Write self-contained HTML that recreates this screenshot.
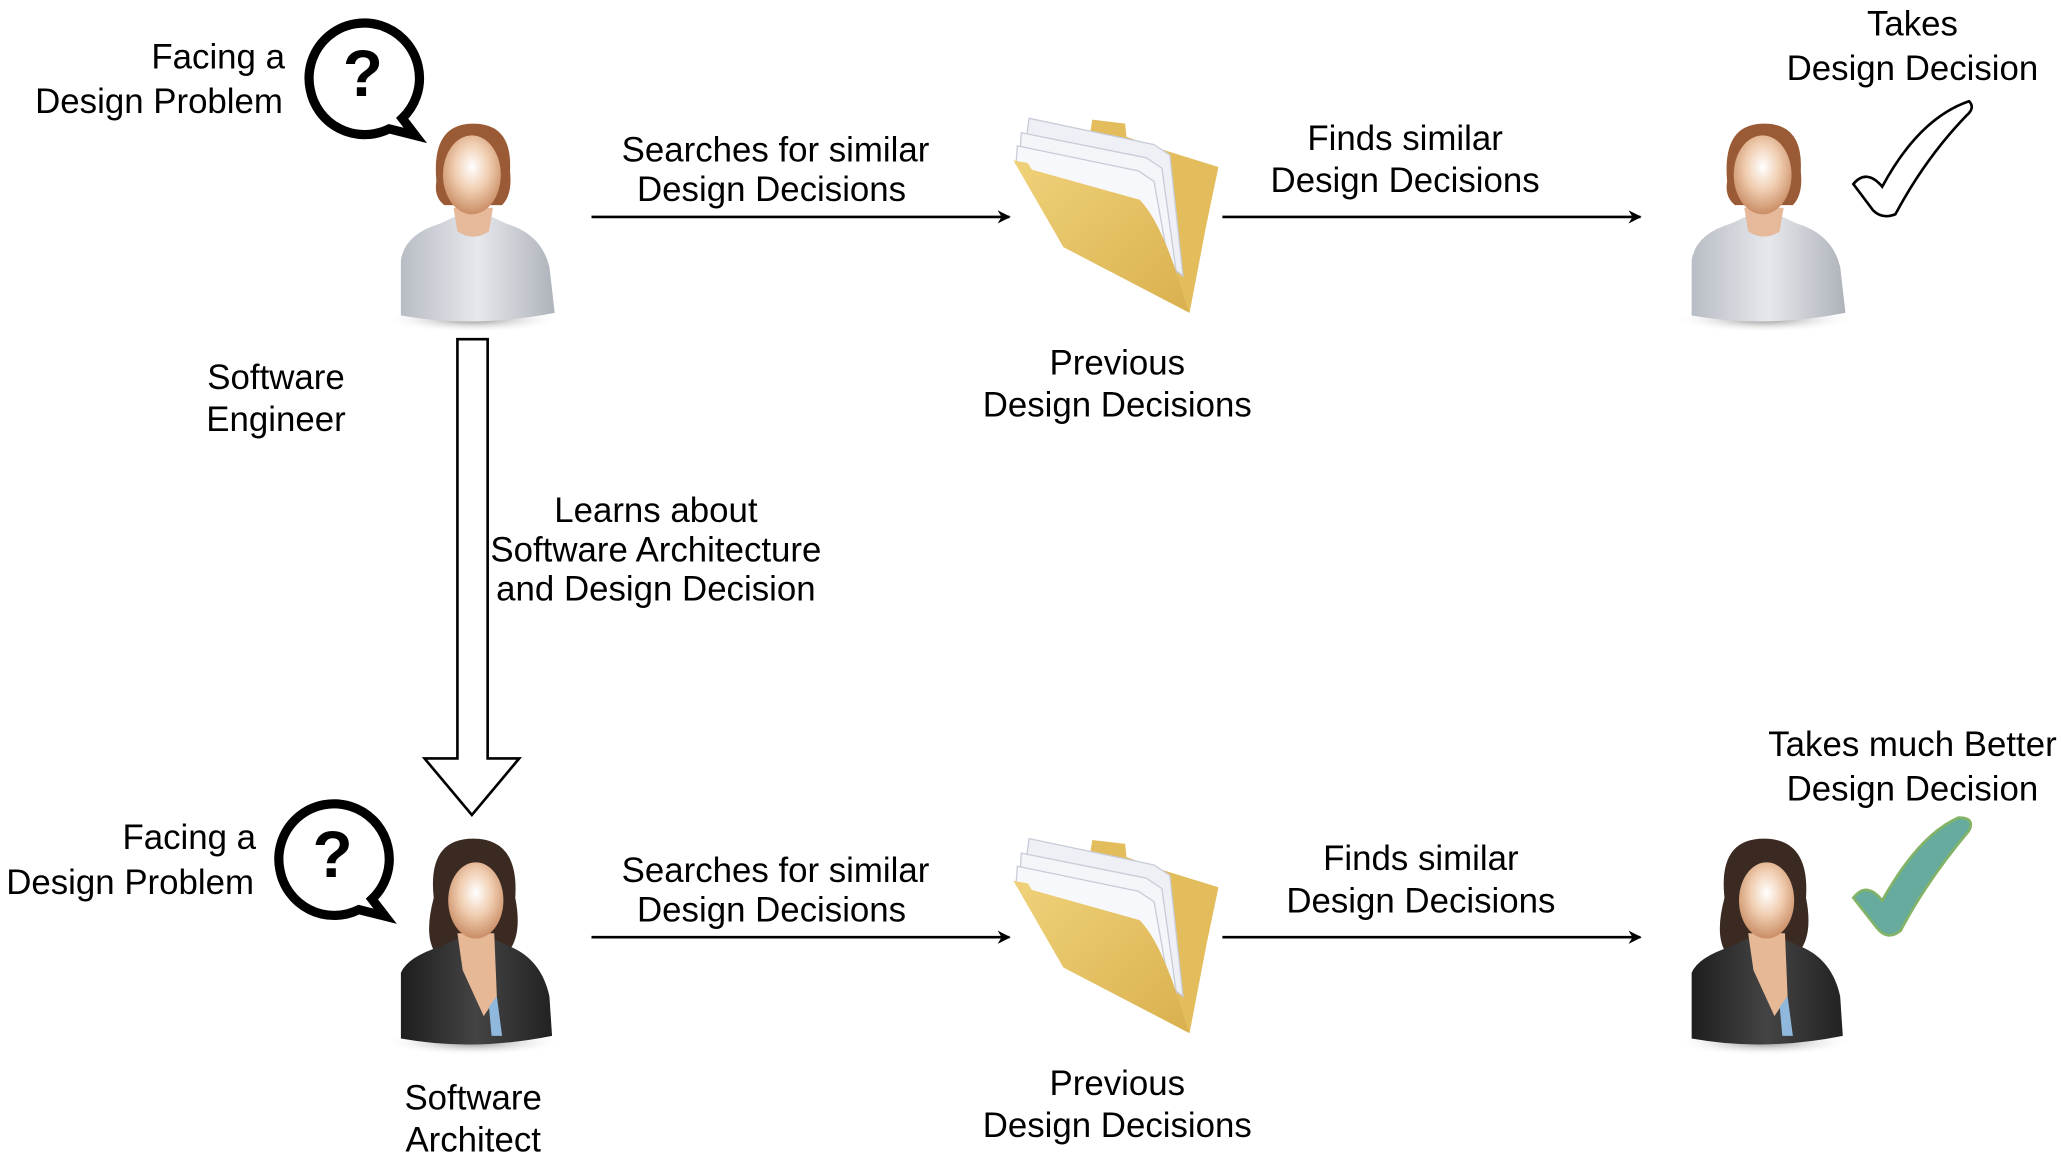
<!DOCTYPE html>
<html><head><meta charset="utf-8"><style>
html,body{margin:0;padding:0;background:#fff;}
svg{display:block;}
text{font-family:"Liberation Sans",sans-serif;font-size:26.5px;fill:#000;text-anchor:middle;}
</style></head><body>
<svg width="2061" height="1164" viewBox="0 0 1568 885.5" preserveAspectRatio="none" xmlns="http://www.w3.org/2000/svg">
<defs>
<radialGradient id="face" cx="0.5" cy="0.4" r="0.6"><stop offset="0" stop-color="#fff"/><stop offset="0.5" stop-color="#f0cdb0"/><stop offset="1" stop-color="#c98d65"/></radialGradient>
<radialGradient id="shadow" cx="0.5" cy="0.5" r="0.5"><stop offset="0" stop-color="#888"/><stop offset="1" stop-color="#fff" stop-opacity="0"/></radialGradient>
<linearGradient id="shirt" x1="0" x2="1"><stop offset="0" stop-color="#b8bcc4"/><stop offset="0.5" stop-color="#e6e8ec"/><stop offset="1" stop-color="#aeb2ba"/></linearGradient>
<linearGradient id="jacket" x1="0" x2="1"><stop offset="0" stop-color="#1e1e1e"/><stop offset="0.5" stop-color="#444"/><stop offset="1" stop-color="#222"/></linearGradient>
<linearGradient id="fold" x1="0" y1="0" x2="1" y2="1"><stop offset="0" stop-color="#f0d27a"/><stop offset="1" stop-color="#d9b04e"/></linearGradient>
<g id="male">
<ellipse cx="0" cy="75" rx="68" ry="10" fill="url(#shadow)"/>
<path d="M-55 72 L-55 30 Q-52 10 -25 2 L-10 -5 L10 -5 L25 2 Q52 10 58 35 L62 70 Q0 82 -55 72Z" fill="url(#shirt)"/>
<path d="M-15 -10 L-12 8 Q0 16 12 8 L15 -10Z" fill="#e5b99a"/>
<path d="M-28 -30 Q-32 -74 0 -74 Q30 -74 28 -38 Q30 -20 22 -12 L-22 -12 Q-30 -18 -28 -30Z" fill="#9a5a35"/>
<ellipse cx="-1" cy="-35" rx="22" ry="30" fill="url(#face)"/>
</g>
<g id="female">
<ellipse cx="0" cy="75" rx="68" ry="10" fill="url(#shadow)"/>
<path d="M-30 -35 Q-35 -80 0 -80 Q35 -80 32 -35 Q38 -5 25 8 L-28 8 Q-38 -5 -30 -35Z" fill="#3a2a22"/>
<path d="M-55 72 L-55 22 Q-50 10 -25 2 L-10 -5 L12 -5 L28 2 Q52 12 58 40 L60 70 Q0 82 -55 72Z" fill="url(#jacket)"/>
<path d="M-12 -8 L-8 20 L8 55 L18 40 L16 -8Z" fill="#e7b896"/>
<path d="M12 48 L18 40 L22 70 L14 70Z" fill="#8fb8dc"/>
<ellipse cx="2" cy="-33" rx="21" ry="29" fill="url(#face)"/>
</g>
<g id="folder">
<path d="M829 104 L831 91 L856 94 L857 104 L885 114 L927 127 L918 170 L905 238 Z" fill="#e3bd5c"/>
<path d="M783 90 L878 110 L890 118 L900 210 L780 110Z" fill="#eef0f6" stroke="#c8ccd8"/>
<path d="M777 101 L872 120 L884 128 L896 215 L776 118Z" fill="#f4f5f9" stroke="#c8ccd8"/>
<path d="M774 111 L866 130 L878 138 L893 222 L773 125Z" fill="#f7f8fb" stroke="#c8ccd8"/>
<path d="M771 122 L782 124 L785 129 L867 152 Q885 170 903 233 L905 238 L809 188 Z" fill="url(#fold)"/>
</g>
<marker id="ah" viewBox="0 0 10 10" refX="9" refY="5" markerWidth="10" markerHeight="10" markerUnits="userSpaceOnUse" orient="auto"><path d="M0 0 L10 5 L0 10 L3 5Z" fill="#000"/></marker>
<g id="bubble">
<path d="M-40 10 A42 42 0 1 1 30 32 L40 45 L20 40 A42 42 0 0 1 -40 10Z" fill="#fff" stroke="#000" stroke-width="7"/>
<text x="0" y="15" style="font-size:50px;font-weight:bold">?</text>
</g>
</defs>

<!-- top row -->
<text x="166" y="52">Facing a</text>
<text x="121" y="86">Design Problem</text>
<use href="#bubble" x="276" y="58"/>
<use href="#male" x="360" y="168"/>
<text x="210" y="296">Software</text>
<text x="210" y="328">Engineer</text>

<text x="590" y="123">Searches for similar</text>
<text x="587" y="153">Design Decisions</text>
<line x1="450" y1="165" x2="768" y2="165" stroke="#000" stroke-width="2" marker-end="url(#ah)"/>
<use href="#folder" x="0" y="0"/>
<text x="850" y="285">Previous</text>
<text x="850" y="317">Design Decisions</text>

<text x="1069" y="114">Finds similar</text>
<text x="1069" y="146">Design Decisions</text>
<line x1="930" y1="165" x2="1248" y2="165" stroke="#000" stroke-width="2" marker-end="url(#ah)"/>
<use href="#male" x="1342" y="168"/>
<text x="1455" y="27">Takes</text>
<text x="1455" y="61">Design Decision</text>
<path d="M1410 140 Q1420 128 1432 142 Q1460 90 1498 77 Q1503 82 1496 88 Q1465 120 1442 163 Q1432 167 1425 160Z" fill="#fff" stroke="#000" stroke-width="2"/>

<!-- down arrow -->
<path d="M348 258 L371 258 L371 577 L395 577 L359 620 L323 577 L348 577Z" fill="#fff" stroke="#000" stroke-width="2"/>
<text x="499" y="397">Learns about</text>
<text x="499" y="427">Software Architecture</text>
<text x="499" y="457">and Design Decision</text>

<!-- bottom row -->
<text x="144" y="646">Facing a</text>
<text x="99" y="680">Design Problem</text>
<use href="#bubble" x="253" y="652"/>
<use href="#female" x="360" y="718"/>
<text x="360" y="844">Software</text>
<text x="360" y="876">Architect</text>

<text x="590" y="671">Searches for similar</text>
<text x="587" y="701">Design Decisions</text>
<line x1="450" y1="713" x2="768" y2="713" stroke="#000" stroke-width="2" marker-end="url(#ah)"/>
<use href="#folder" x="0" y="548"/>
<text x="850" y="833">Previous</text>
<text x="850" y="865">Design Decisions</text>

<text x="1081" y="662">Finds similar</text>
<text x="1081" y="694">Design Decisions</text>
<line x1="930" y1="713" x2="1248" y2="713" stroke="#000" stroke-width="2" marker-end="url(#ah)"/>
<use href="#female" x="1342" y="718"/>
<text x="1455" y="575">Takes much Better</text>
<text x="1455" y="609">Design Decision</text>
<path d="M1410 683 Q1420 670 1432 685 Q1460 635 1490 622 Q1503 622 1498 632 Q1466 670 1446 708 Q1436 716 1428 706Z" fill="#67ab9f" stroke="#82b366" stroke-width="2"/>
</svg>
</body></html>
